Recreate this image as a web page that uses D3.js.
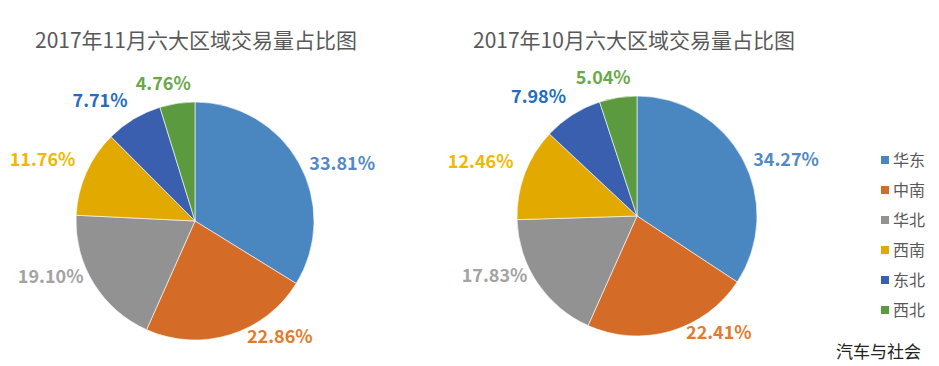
<!DOCTYPE html>
<html><head><meta charset="utf-8">
<script src="https://cdn.jsdelivr.net/npm/d3@7"></script>
<style>
html,body{margin:0;padding:0;background:#fff;}
svg{display:block;}
</style></head>
<body>
<svg id="chart" width="939" height="366"></svg>
<script>
const regions = ["华东","中南","华北","西南","东北","西北"];
const novValues = [33.81, 22.86, 19.10, 11.76, 7.71, 4.76];
const octValues = [34.27, 22.41, 17.83, 12.46, 7.98, 5.04];
const titles = ["2017年11月六大区域交易量占比图", "2017年10月六大区域交易量占比图"];
const sliceColors = ["#4A86C0","#D46C27","#929292","#E2AA00","#3A5FAE","#5C9A3F"];
const labelColors = ["#5389C4","#E37A2C","#A3A3A3","#F2B800","#1F6EC0","#6AA84A"];
const sourceText = "汽车与社会";

const svg = d3.select("#chart");
const font = "'Noto Sans CJK SC','Noto Sans',sans-serif";

const pies = [
  {values: novValues, title: titles[0], cx: 195, cy: 221, r: 119, tx: 35},
  {values: octValues, title: titles[1], cx: 637, cy: 216, r: 120, tx: 473}
];

const pie = d3.pie().sort(null).value(d => d);

pies.forEach(p => {
  svg.append("text")
    .attr("x", p.tx).attr("y", 48)
    .attr("font-family", font).attr("font-size", 21)
    .attr("fill", "#595959")
    .text(p.title);

  const g = svg.append("g").attr("transform", `translate(${p.cx},${p.cy})`);
  const arc = d3.arc().innerRadius(0).outerRadius(p.r);
  const arcs = pie(p.values);
  g.selectAll("path").data(arcs).join("path")
    .attr("d", arc)
    .attr("fill", (d,i) => sliceColors[i])
    .attr("stroke", "#ffffff").attr("stroke-width", 0.6);

  const lr = p.r * 1.1;
  arcs.forEach((d, i) => {
    const a = (d.startAngle + d.endAngle) / 2;
    const s = Math.sin(a), c = Math.cos(a);
    const x = lr * s, y = -lr * c;
    const t = g.append("text")
      .attr("font-family", font).attr("font-size", 18).attr("font-weight", 700)
      .attr("fill", labelColors[i])
      .text(d3.format(".2f")(d.data) + "%");
    const w = t.node().getComputedTextLength();
    const frac = Math.max(0, Math.min(1, 0.5 - s * 1.5));
    const dx = (c < 0 && s > 0) ? 18 * (-c) : 0;
    const yc = y + 8 * s + (c < 0 ? 12 * c : -7 * Math.pow(c, 4));
    t.attr("x", x - frac * w + dx).attr("y", yc + 6);
  });
});

const legend = svg.append("g").attr("transform", "translate(881,160)");
regions.forEach((name, i) => {
  const row = legend.append("g").attr("transform", `translate(0,${i*30})`);
  row.append("rect").attr("x", 0).attr("y", -4).attr("width", 8).attr("height", 8)
    .attr("fill", sliceColors[i]);
  row.append("text").attr("x", 12).attr("y", 6)
    .attr("font-family", font).attr("font-size", 16).attr("fill", "#595959")
    .text(name);
});

svg.append("text").attr("x", 836).attr("y", 358)
  .attr("font-family", font).attr("font-size", 17).attr("fill", "#222")
  .text(sourceText);
</script>
</body></html>
